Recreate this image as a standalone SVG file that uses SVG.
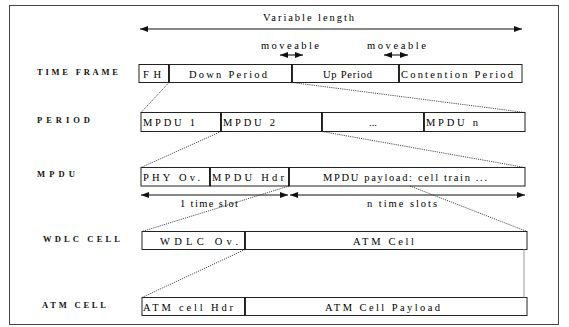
<svg xmlns="http://www.w3.org/2000/svg" width="569" height="327" viewBox="0 0 569 327">
<style>
.frame{fill:#fff;stroke:#444;stroke-width:1}
.box{fill:#fff;stroke:#222;stroke-width:1}
.div{stroke:#111;stroke-width:1.6}
.lbl{font-family:"Liberation Serif",serif;font-weight:bold;font-size:8.5px;fill:#111}
.t{font-family:"Liberation Serif",serif;font-size:10.5px;fill:#000}
.arr{stroke:#111;stroke-width:1.1;fill:none;marker-start:url(#ah);marker-end:url(#ah)}
.dot{stroke:#222;stroke-width:0.8;stroke-dasharray:1.2 1;fill:none}
</style>
<defs>
<marker id="ah" viewBox="0 0 8 6" refX="8" refY="3" markerWidth="8" markerHeight="6" markerUnits="userSpaceOnUse" orient="auto-start-reverse">
<path d="M0,0 L8,3 L0,6 z" fill="#111"/>
</marker>
</defs>
<rect class="frame" x="9.5" y="5.5" width="549" height="319"/>

<g id="labels">
<text class="lbl" x="37" y="75" textLength="81" lengthAdjust="spacing">TIME FRAME</text>
<text class="lbl" x="37" y="123" textLength="53" lengthAdjust="spacing">PERIOD</text>
<text class="lbl" x="37" y="177" textLength="38" lengthAdjust="spacing">MPDU</text>
<text class="lbl" x="43" y="242" textLength="77" lengthAdjust="spacing">WDLC CELL</text>
<text class="lbl" x="42" y="308" textLength="64" lengthAdjust="spacing">ATM CELL</text>
</g>

<g id="timeframe">
<g id="fh"><rect class="box" x="139" y="64.5" width="30" height="18"/><text class="t" x="143" y="77.5" textLength="18" lengthAdjust="spacing">FH</text></g>
<g id="down"><rect class="box" x="169" y="64.5" width="123" height="18"/><text class="t" x="189" y="77.5" textLength="78" lengthAdjust="spacing">Down Period</text></g>
<g id="up"><rect class="box" x="292" y="64.5" width="107" height="18"/><text class="t" x="323" y="77.5" textLength="49" lengthAdjust="spacing">Up Period</text></g>
<g id="contention"><rect class="box" x="399" y="64.5" width="123" height="18"/><text class="t" x="401" y="77.5" textLength="112" lengthAdjust="spacing">Contention Period</text></g>
<line class="div" x1="169" y1="64.5" x2="169" y2="82.5"/>
<line class="div" x1="292" y1="64.5" x2="292" y2="82.5"/>
<line class="div" x1="399" y1="64.5" x2="399" y2="82.5"/>
</g>

<g id="period">
<g id="mpdu1"><rect class="box" x="141" y="112.5" width="80" height="19"/><text class="t" x="143" y="126" textLength="52" lengthAdjust="spacing">MPDU 1</text></g>
<g id="mpdu2"><rect class="box" x="221" y="112.5" width="101" height="19"/><text class="t" x="223" y="126" textLength="52" lengthAdjust="spacing">MPDU 2</text></g>
<g id="ellipsis"><rect class="box" x="322" y="112.5" width="102" height="19"/><text class="t" x="373" y="126" text-anchor="middle">...</text></g>
<g id="mpdun"><rect class="box" x="424" y="112.5" width="101" height="19"/><text class="t" x="426" y="126" textLength="52" lengthAdjust="spacing">MPDU n</text></g>
<line class="div" x1="221" y1="112.5" x2="221" y2="131.5"/>
<line class="div" x1="322" y1="112.5" x2="322" y2="131.5"/>
<line class="div" x1="424" y1="112.5" x2="424" y2="131.5"/>
</g>

<g id="mpdu">
<g id="phy"><rect class="box" x="141" y="167.5" width="69" height="18.5"/><text class="t" x="143" y="180.5" textLength="57" lengthAdjust="spacing">PHY Ov.</text></g>
<g id="hdr"><rect class="box" x="210" y="167.5" width="79" height="18.5"/><text class="t" x="212" y="180.5" textLength="72" lengthAdjust="spacing">MPDU Hdr</text></g>
<g id="payload"><rect class="box" x="289" y="167.5" width="236" height="18.5"/><text class="t" x="323" y="180.5" textLength="164" lengthAdjust="spacing">MPDU payload: cell train ...</text></g>
<line class="div" x1="210" y1="167.5" x2="210" y2="186"/>
<line class="div" x1="289" y1="167.5" x2="289" y2="186"/>
</g>

<g id="wdlc">
<g id="wdlcov"><rect class="box" x="142" y="231.5" width="103" height="18"/><text class="t" x="160" y="244.5" textLength="78" lengthAdjust="spacing">WDLC Ov.</text></g>
<g id="atmcell"><rect class="box" x="245" y="231.5" width="282" height="18"/><text class="t" x="353" y="244.5" textLength="61" lengthAdjust="spacing">ATM Cell</text></g>
<line class="div" x1="245" y1="231.5" x2="245" y2="249.5"/>
</g>

<g id="atm">
<g id="atmhdr"><rect class="box" x="142" y="297.5" width="103" height="18"/><text class="t" x="143" y="310.5" textLength="90" lengthAdjust="spacing">ATM cell Hdr</text></g>
<g id="atmpayload"><rect class="box" x="245" y="297.5" width="282" height="18"/><text class="t" x="325" y="310.5" textLength="115" lengthAdjust="spacing">ATM Cell Payload</text></g>
<line class="div" x1="245" y1="297.5" x2="245" y2="315.5"/>
</g>

<g id="dimensions">
<line class="arr" x1="140" y1="29" x2="522" y2="29"/>
<text class="t" x="263" y="21" textLength="91" lengthAdjust="spacing">Variable length</text>
<line class="arr" x1="280" y1="55" x2="303" y2="55"/>
<text class="t" x="261" y="49" textLength="58" lengthAdjust="spacing">moveable</text>
<line class="arr" x1="384" y1="55" x2="408" y2="55"/>
<text class="t" x="367" y="49" textLength="59" lengthAdjust="spacing">moveable</text>
<line class="arr" x1="141" y1="195" x2="288" y2="195"/>
<text class="t" x="180" y="207" textLength="58" lengthAdjust="spacing">1 time slot</text>
<line class="arr" x1="290" y1="195" x2="525" y2="195"/>
<text class="t" x="367" y="207" textLength="70" lengthAdjust="spacing">n time slots</text>
</g>

<g id="connectors">
<line class="dot" x1="169" y1="82.5" x2="141" y2="112.5"/>
<line class="dot" x1="292" y1="82.5" x2="525" y2="112.5"/>
<line class="dot" x1="221" y1="131.5" x2="141" y2="167.5"/>
<line class="dot" x1="322" y1="131.5" x2="525" y2="167.5"/>
<line class="dot" x1="289" y1="186" x2="142" y2="231.5"/>
<line class="dot" x1="410" y1="186" x2="527" y2="231.5"/>
<line class="dot" x1="245" y1="249.5" x2="142" y2="297.5"/>
<line stroke="#999" stroke-width="1" x1="524" y1="249.5" x2="524" y2="297.5"/>
</g>
</svg>
